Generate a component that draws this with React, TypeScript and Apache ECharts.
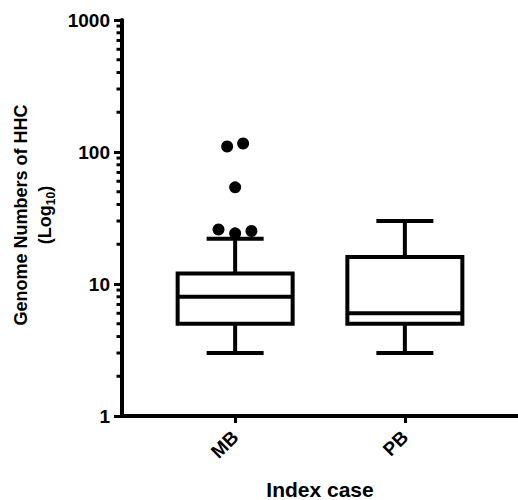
import React, { useEffect, useRef } from 'react';
import * as echarts from 'echarts';

// ---- data ----
const categories = ['MB', 'PB'];
const whiskerLow = [3, 3];
const quartile1 = [5, 5];
const medians = [8, 6];
const quartile3 = [12, 16];
const whiskerHigh = [22, 30];
// outliers (category index + small horizontal jitter, value)
const outlierCategory = [0, 0, 0, 0, 0, 0];
const outlierJitter = [-0.098, 0, 0.096, -0.047, 0.047, 0];
const outlierValues = [25.9, 24.2, 25.2, 110, 116, 54];
// log-axis minor tick values
const minorTickValues = [2, 3, 4, 5, 6, 7, 8, 9, 20, 30, 40, 50, 60, 70, 80, 90, 200, 300, 400, 500, 600, 700, 800, 900];
const xRange = [-2 / 3, 5 / 3];
const yRange = [1, 1000];

const FONT = 'Liberation Sans, Arial, sans-serif';

export default function App() {
  const ref = useRef<HTMLDivElement>(null);
  useEffect(() => {
    if (!ref.current) return;
    const chart = echarts.init(ref.current, null, { renderer: 'svg' });
    const boxData = categories.map((_, i) => [i, whiskerLow[i], quartile1[i], medians[i], quartile3[i], whiskerHigh[i]]);
    const outlierData = outlierValues.map((v, i) => [outlierCategory[i] + outlierJitter[i], v]);
    const minorData = minorTickValues.map((v) => [xRange[0], v]);
    const stroke = { stroke: '#000', lineWidth: 4, fill: 'none' };

    chart.setOption({
      animation: false,
      backgroundColor: '#fff',
      grid: { left: 122, right: 0, top: 20, bottom: 84, containLabel: false, outerBoundsMode: 'none' },
      xAxis: {
        type: 'value',
        min: xRange[0],
        max: xRange[1],
        splitLine: { show: false },
        axisLine: { show: true, onZero: false, lineStyle: { color: '#000', width: 4 } },
        axisTick: { show: true, customValues: [0, 1], length: 7, lineStyle: { color: '#000', width: 3 } },
        axisLabel: {
          customValues: [0, 1],
          formatter: (v: number) => categories[Math.round(v)] ?? '',
          rotate: 45,
          margin: 18,
          fontSize: 19,
          fontWeight: 'bold',
          color: '#000',
          fontFamily: FONT,
        },
        name: 'Index case',
        nameLocation: 'middle',
        nameGap: 63,
        nameTextStyle: { fontSize: 21, fontWeight: 'bold', color: '#000', fontFamily: FONT },
      },
      yAxis: {
        type: 'log',
        logBase: 10,
        min: yRange[0],
        max: yRange[1],
        splitLine: { show: false },
        axisLine: { show: true, onZero: false, lineStyle: { color: '#000', width: 4 } },
        axisTick: { show: true, length: 8, lineStyle: { color: '#000', width: 3 } },
        axisLabel: {
          fontSize: 19,
          fontWeight: 'bold',
          color: '#000',
          margin: 12,
          fontFamily: FONT,
          formatter: (v: number) => String(Math.round(v)),
        },
        name: 'Genome Numbers of HHC\n(Log{sub|10})',
        nameLocation: 'middle',
        nameRotate: 90,
        nameGap: 59,
        nameTextStyle: {
          fontSize: 18,
          fontWeight: 'bold',
          color: '#000',
          lineHeight: 24,
          fontFamily: FONT,
          padding: [0, 0, 0, 6],
          rich: {
            sub: { fontSize: 12, fontWeight: 'bold', color: '#000', lineHeight: 12, verticalAlign: 'bottom', fontFamily: FONT },
          },
        },
      },
      series: [
        {
          type: 'custom',
          name: 'minor ticks',
          data: minorData,
          encode: { x: 0, y: 1 },
          silent: true,
          clip: false,
          renderItem: (params: any, api: any) => {
            const p = api.coord([api.value(0), api.value(1)]);
            const x = params.coordSys.x;
            return {
              type: 'line',
              shape: { x1: x - 5.5, y1: p[1], x2: x, y2: p[1] },
              style: { stroke: '#000', lineWidth: 3 },
            };
          },
        },
        {
          type: 'custom',
          name: 'boxes',
          data: boxData,
          encode: { x: 0, y: [1, 2, 3, 4, 5] },
          renderItem: (_params: any, api: any) => {
            const xv = api.value(0);
            const pLow = api.coord([xv, api.value(1)]);
            const pQ1 = api.coord([xv, api.value(2)]);
            const pMed = api.coord([xv, api.value(3)]);
            const pQ3 = api.coord([xv, api.value(4)]);
            const pHigh = api.coord([xv, api.value(5)]);
            const cx = pLow[0];
            const hw = 57.5;
            const cw = 28.5;
            return {
              type: 'group',
              children: [
                { type: 'line', shape: { x1: cx, y1: pLow[1], x2: cx, y2: pQ1[1] }, style: stroke },
                { type: 'line', shape: { x1: cx - cw, y1: pLow[1], x2: cx + cw, y2: pLow[1] }, style: stroke },
                { type: 'line', shape: { x1: cx, y1: pHigh[1], x2: cx, y2: pQ3[1] }, style: stroke },
                { type: 'line', shape: { x1: cx - cw, y1: pHigh[1], x2: cx + cw, y2: pHigh[1] }, style: stroke },
                {
                  type: 'rect',
                  shape: { x: cx - hw, y: pQ3[1], width: hw * 2, height: pQ1[1] - pQ3[1] },
                  style: { fill: '#fff', stroke: '#000', lineWidth: 4 },
                },
                { type: 'line', shape: { x1: cx - hw, y1: pMed[1], x2: cx + hw, y2: pMed[1] }, style: stroke },
              ],
            };
          },
        },
        {
          type: 'scatter',
          name: 'outliers',
          data: outlierData,
          symbol: 'circle',
          symbolSize: 12,
          itemStyle: { color: '#000', opacity: 1 },
          z: 5,
        },
      ],
    });
    return () => chart.dispose();
  }, []);
  return <div ref={ref} style={{ position: 'fixed', left: 0, top: 0, width: 518, height: 500, background: '#fff' }} />;
}
